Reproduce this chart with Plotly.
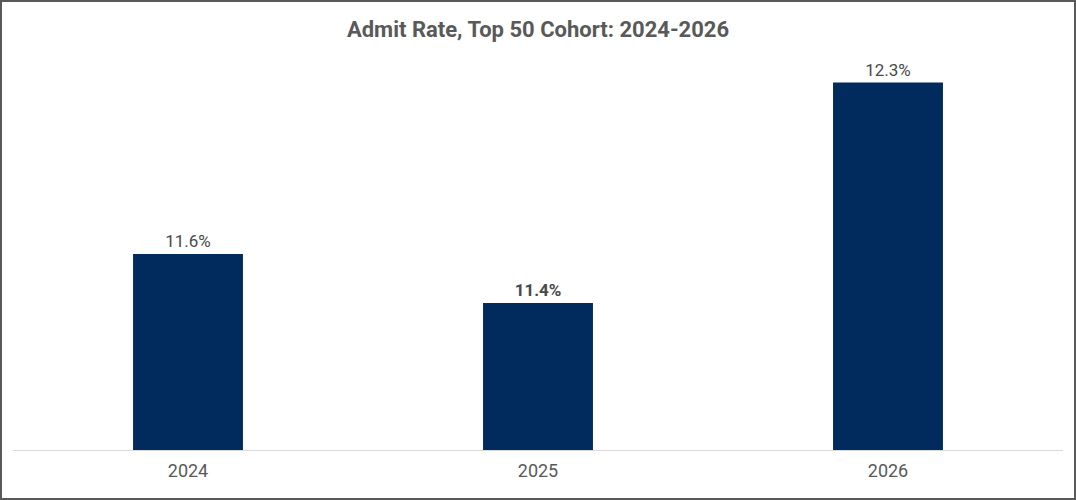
import plotly.graph_objects as go

# Data
years = ['2024', '2025', '2026']
admit_rate = [11.6, 11.4, 12.3]
bold_year = '2025'

# label text, middle one is bold in the original
labels = [f"<b>{v:.1f}%</b>" if y == bold_year else f"{v:.1f}%" for y, v in zip(years, admit_rate)]

W, H = 1076, 500
ml, mr, mt, mb = 13, 13, 58, 50
pw, ph = W - ml - mr, H - mt - mb

fig = go.Figure(go.Bar(
    x=years,
    y=admit_rate,
    text=labels,
    textposition='outside',
    textfont=dict(size=17, color='#4a4a4a', family='Roboto'),
    marker=dict(color='#002b5c', line=dict(width=0)),
    width=0.314,
    cliponaxis=False,
))

fig.update_layout(
    width=W, height=H,
    margin=dict(l=ml, r=mr, t=mt, b=mb),
    paper_bgcolor='white',
    plot_bgcolor='white',
    font=dict(family='Roboto', color='#595959'),
    title=dict(text='<b>Admit Rate, Top 50 Cohort: 2024-2026</b>',
               x=0.5, xanchor='center', y=1 - 29 / H, yanchor='middle',
               font=dict(size=22, color='#595959', family='Roboto')),
    showlegend=False,
    xaxis=dict(showgrid=False, showline=True, linecolor='#d9d9d9', linewidth=1,
               tickfont=dict(size=18, color='#595959'), ticklabelstandoff=4),
    yaxis=dict(range=[10.8, 12.4], visible=False),
)

# outer border of the chart
fig.add_shape(type='rect', xref='paper', yref='paper',
              x0=-(ml - 1) / pw, x1=1 + (mr - 1) / pw,
              y0=-(mb - 1) / ph, y1=1 + (mt - 1) / ph,
              line=dict(color='#595959', width=2))

# drop the browser's default body margin so the figure sits at 0,0
fig.write_html("out.html", config={'displayModeBar': False},
               post_script="document.body.style.margin='0';")
